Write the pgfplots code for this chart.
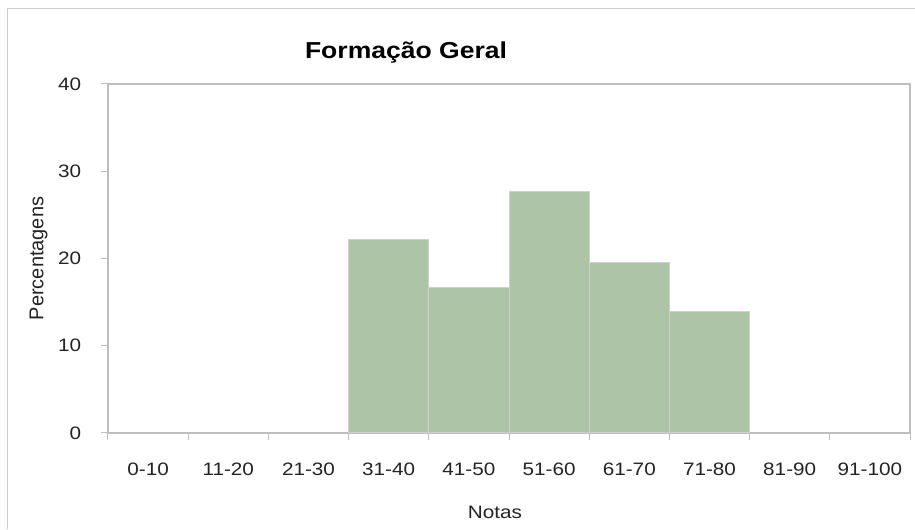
\documentclass[border=0pt]{standalone}
\usepackage{pgfplots}
\pgfplotsset{compat=1.18}
\usepackage{fontspec}
\setmainfont{Liberation Sans}
\definecolor{barfill}{RGB}{173,196,166}
\definecolor{baredge}{RGB}{205,210,205}
\definecolor{axgray}{RGB}{190,190,190}
\definecolor{outer}{RGB}{205,205,205}
\definecolor{txt}{RGB}{35,35,35}
\begin{document}
\begin{tikzpicture}
\useasboundingbox (0,0) rectangle (686.25pt,396.75pt);
\draw[outer, line width=0.75pt] (5.25pt,0) -- (5.25pt,390pt) -- (686.25pt,390pt);
\begin{axis}[
  at={(81pt,72pt)}, anchor=south west,
  scale only axis, width=601.5pt, height=261.75pt,
  xmin=0, xmax=10, ymin=0, ymax=40,
  axis line style={axgray, line width=1.5pt},
  xtick={0,1,...,10},
  x tick label as interval=true,
  xticklabels={0-10,11-20,21-30,31-40,41-50,51-60,61-70,71-80,81-90,91-100},
  ytick={0,10,20,30,40},
  tick align=outside,
  major tick length=5.25pt,
  tick style={axgray, line width=0.75pt},
  xtick pos=bottom, ytick pos=left,
  tick label style={font=\fontsize{13.5}{16}\selectfont, text=txt, xscale=1.15},
  /pgf/number format/assume math mode=true,
  xticklabel style={anchor=base, yshift=-27pt},
  yticklabel style={anchor=east, inner sep=0pt, xshift=-12.75pt},
  xlabel={Notas},
  xlabel style={at={(axis description cs:0.4825,-0.2436)}, anchor=base, font=\fontsize{13.5}{16}\selectfont, text=txt, xscale=1.15},
  ylabel={Percentagens},
  ylabel style={at={(axis description cs:-0.0865,0.5)}, anchor=center, font=\fontsize{15}{17}\selectfont, text=txt},
  title={Formação Geral},
  title style={at={(axis description cs:0.3716,1.05)}, anchor=base, font=\fontsize{17.3}{20}\selectfont\bfseries, xscale=1.15},
  clip=false,
]
\addplot[ybar, bar width=1, fill=barfill, draw=baredge, line width=0.75pt] coordinates {
  (3.5,22.2) (4.5,16.7) (5.5,27.7) (6.5,19.5) (7.5,13.9)
};
\end{axis}
\end{tikzpicture}
\end{document}
